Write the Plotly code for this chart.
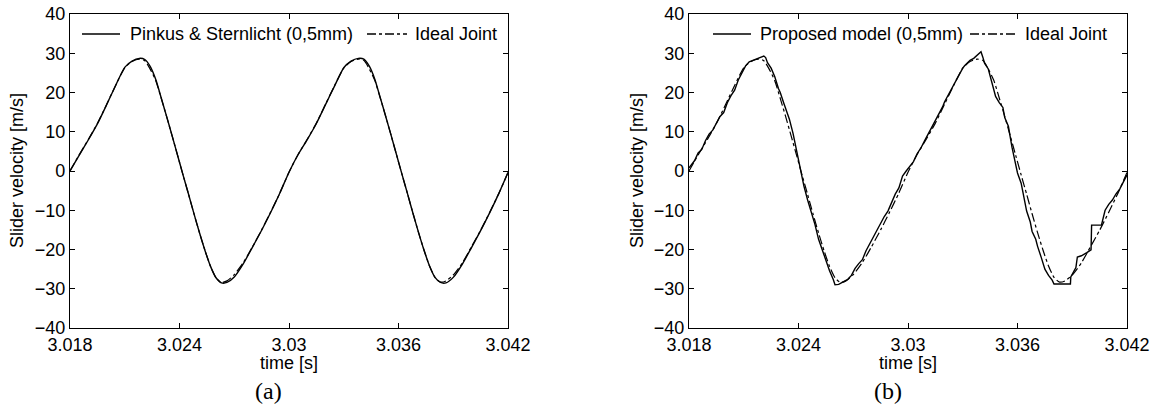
import plotly.graph_objects as go

# ---------------- data ----------------
t_a = [3.0180, 3.0185, 3.0190, 3.0195, 3.0200, 3.0205, 3.0210, 3.0214, 3.0218, 3.0221,
       3.0224, 3.0227, 3.0230, 3.0233, 3.0236, 3.0239, 3.0242, 3.0245, 3.0248, 3.0251,
       3.0254, 3.0257, 3.0260, 3.0263, 3.0266, 3.0270, 3.0275, 3.0280, 3.0285, 3.0290,
       3.0295, 3.0300,
       3.0305, 3.0310, 3.0315, 3.0320, 3.0325, 3.0330, 3.0334, 3.0338, 3.0341, 3.0344,
       3.0347, 3.0350, 3.0353, 3.0356, 3.0359, 3.0362, 3.0365, 3.0368, 3.0371, 3.0374,
       3.0377, 3.0380, 3.0383, 3.0386, 3.0390, 3.0395, 3.0400, 3.0405, 3.0410, 3.0415,
       3.0420]

pinkus_v = [0.0, 4.0, 7.9, 12.0, 16.8, 21.8, 26.4, 28.0, 28.7, 28.4,
            26.6, 23.3, 18.6, 13.8, 8.9, 3.9, -1.1, -6.0, -11.0, -15.8,
            -20.3, -24.3, -27.2, -28.5, -28.4, -27.0, -23.6, -19.4, -15.1, -10.5,
            -5.6, -0.3,
            4.2, 8.0, 12.1, 16.9, 21.7, 26.3, 28.0, 28.7, 28.5, 26.7,
            23.4, 18.7, 13.9, 9.0, 4.0, -1.0, -5.9, -10.9, -15.7, -20.2,
            -24.2, -27.1, -28.4, -28.5, -27.1, -23.7, -19.5, -15.2, -10.6, -5.7,
            -0.4]

ideal_v = [0.0, 4.1, 8.0, 12.1, 16.9, 21.8, 26.3, 27.9, 28.5, 28.1,
           25.9, 23.0, 18.5, 13.8, 8.9, 3.9, -1.1, -6.0, -11.0, -15.8,
           -20.3, -24.3, -27.2, -28.4, -28.0, -26.4, -23.3, -19.3, -15.0, -10.4,
           -5.6, -0.3,
           4.2, 8.1, 12.2, 17.0, 21.8, 26.2, 27.9, 28.5, 28.2, 26.0,
           23.1, 18.6, 13.9, 9.0, 4.0, -1.0, -5.9, -10.9, -15.7, -20.2,
           -24.2, -27.1, -28.3, -28.0, -26.5, -23.4, -19.3, -15.1, -10.5, -5.7,
           -0.4]

t_b = [3.0180, 3.0183, 3.0185, 3.0187, 3.0189, 3.0191, 3.0193, 3.0195, 3.0197, 3.0199,
       3.0201, 3.0203, 3.0205, 3.0207, 3.0209, 3.0211, 3.0213, 3.0216, 3.0219, 3.0221,
       3.0222, 3.0223, 3.0225, 3.0227, 3.0229, 3.0230, 3.0232, 3.0234, 3.0235, 3.0237,
       3.0239, 3.0240, 3.0242, 3.0243, 3.0245, 3.0247, 3.0249, 3.0251, 3.0253, 3.0255,
       3.0257, 3.0259, 3.0260, 3.0262, 3.0264, 3.0267, 3.0269, 3.0271, 3.0273, 3.0275,
       3.0277, 3.0279, 3.0281, 3.0283, 3.0285, 3.0287, 3.0289, 3.0291, 3.0293, 3.0295,
       3.0297, 3.0299, 3.0301,
       3.0303, 3.0305, 3.0307, 3.0309, 3.0311, 3.0313, 3.0315, 3.0317, 3.0319, 3.0320,
       3.0322, 3.0324, 3.0326, 3.0328, 3.0330, 3.0331, 3.0334, 3.0336, 3.0338, 3.0340,
       3.0341, 3.0342, 3.0344, 3.0345, 3.0347, 3.0348, 3.0350, 3.0352, 3.0353, 3.0355,
       3.0357, 3.0359, 3.0360, 3.0362, 3.0364, 3.0365, 3.0367, 3.0368, 3.0370, 3.0371,
       3.0373, 3.0375, 3.0377, 3.0379, 3.0380, 3.03890, 3.03892, 3.0392, 3.03928, 3.0395,
       3.0398, 3.04003, 3.04006, 3.0406, 3.0408, 3.0410, 3.0412, 3.0414, 3.0416, 3.0418,
       3.0420]

proposed_v = [0.8, 2.6, 4.6, 5.5, 7.7, 9.4, 10.4, 12.3, 13.9, 14.9,
              17.4, 19.2, 20.6, 23.2, 25.2, 26.8, 27.8, 28.4, 28.9, 29.3,
              28.9, 27.6, 26.2, 24.0, 21.0, 20.0, 17.2, 14.4, 13.2, 9.6,
              5.0, 3.0, -1.6, -3.9, -7.4, -10.4, -13.6, -17.4, -20.2, -22.9,
              -25.4, -27.6, -29.0, -28.9, -28.4, -27.6, -26.6, -24.8, -23.6, -22.6,
              -20.3, -18.6, -16.6, -15.2, -13.2, -11.6, -10.2, -8.0, -5.9, -4.3,
              -1.3, 0.0, 1.2,
              2.4, 4.4, 5.8, 7.6, 9.4, 11.2, 12.6, 14.6, 16.4, 17.6,
              19.4, 21.0, 22.9, 24.6, 26.2, 26.8, 28.2, 28.7, 29.6, 30.4,
              29.0, 27.4, 26.0, 24.2, 21.2, 19.0, 17.4, 16.2, 13.6, 11.4,
              6.0, 1.5, -0.5, -3.1, -7.4, -10.2, -13.0, -15.4, -17.4, -19.2,
              -22.0, -25.0, -26.6, -27.8, -28.8, -28.8, -27.0, -24.6, -21.9, -21.6,
              -20.8, -20.1, -13.8, -13.8, -10.0, -8.5, -7.4, -5.8, -4.6, -2.6,
              -1.0]

x_tickvals = [3.018, 3.024, 3.030, 3.036, 3.042]
x_ticktext = ["3.018", "3.024", "3.03", "3.036", "3.042"]
y_tickvals = [-40, -30, -20, -10, 0, 10, 20, 30, 40]

# ---------------- figure ----------------
FONT = "Liberation Sans, Arial, sans-serif"
SERIF = "Liberation Serif, Times New Roman, serif"

# target positions in page pixels
AX_L1, AX_R1, AX_L2, AX_R2 = 70, 508, 689, 1127
AX_T, AX_B = 14, 328

W, H = 1157, 407
L, T = AX_L1, AX_T
pw = AX_R2 - AX_L1
ph = AX_B - AX_T
R = W - L - pw
B = H - T - ph


def px2x(p):
    return (p - AX_L1) / pw


def py2y(p):
    return (AX_B - p) / ph


fig = go.Figure()
fig.add_trace(go.Scatter(x=t_a, y=pinkus_v, mode="lines", name="Pinkus & Sternlicht (0,5mm)",
                         line=dict(color="black", width=1.4, shape="spline", smoothing=0.6),
                         xaxis="x", yaxis="y", showlegend=False))
fig.add_trace(go.Scatter(x=t_a, y=ideal_v, mode="lines", name="Ideal Joint",
                         line=dict(color="black", width=1.2, dash="dashdot", shape="spline", smoothing=0.6),
                         xaxis="x", yaxis="y", showlegend=False))
fig.add_trace(go.Scatter(x=t_b, y=proposed_v, mode="lines", name="Proposed model (0,5mm)",
                         line=dict(color="black", width=1.4),
                         xaxis="x2", yaxis="y2", showlegend=False))
fig.add_trace(go.Scatter(x=t_a, y=ideal_v, mode="lines", name="Ideal Joint",
                         line=dict(color="black", width=1.2, dash="dashdot", shape="spline", smoothing=0.6),
                         xaxis="x2", yaxis="y2", showlegend=False))

common = dict(showline=True, linecolor="black", linewidth=1.2, mirror="ticks",
              ticks="inside", ticklen=5, tickcolor="black", tickwidth=1,
              showgrid=False, zeroline=False, automargin=False,
              ticklabeloverflow="allow",
              tickfont=dict(family=FONT, size=18, color="black"))
xax = dict(range=[3.018, 3.042], tickvals=x_tickvals, ticktext=x_ticktext, **common)
yax = dict(range=[-40, 40], tickvals=y_tickvals, **common)

# hand-placed legends (inside top of each panel)
LEG_Y = py2y(34)
legend_items = [
    # (line start px, line end px, text px, dash, label)
    (82, 120, 128, "solid", "Pinkus & Sternlicht (0,5mm)"),
    (367, 407, 413, "dashdot", "Ideal Joint"),
    (713, 751, 758, "solid", "Proposed model (0,5mm)"),
    (970, 1017, 1023, "dashdot", "Ideal Joint"),
]
shapes = []
annotations = []
for x0, x1, xt, dash, label in legend_items:
    shapes.append(dict(type="line", xref="paper", yref="paper", x0=px2x(x0), x1=px2x(x1),
                       y0=LEG_Y, y1=LEG_Y, line=dict(color="black", width=1.3, dash=dash)))
    annotations.append(dict(text=label, xref="paper", yref="paper", x=px2x(xt), y=LEG_Y,
                            showarrow=False, xanchor="left", yanchor="middle",
                            font=dict(family=FONT, size=18, color="black")))

for cx in (289, 908):
    annotations.append(dict(text="time [s]", xref="paper", yref="paper", x=px2x(cx), y=py2y(363),
                            showarrow=False, xanchor="center", yanchor="middle",
                            font=dict(family=FONT, size=18, color="black")))
for cx in (17, 637):
    annotations.append(dict(text="Slider velocity [m/s]", xref="paper", yref="paper", x=px2x(cx),
                            y=py2y(171), showarrow=False, xanchor="center", yanchor="middle",
                            textangle=-90, font=dict(family=FONT, size=18, color="black")))
for cx, lab in ((268, "(a)"), (888, "(b)")):
    annotations.append(dict(text=lab, xref="paper", yref="paper", x=px2x(cx), y=py2y(391),
                            showarrow=False, xanchor="center", yanchor="middle",
                            font=dict(family=SERIF, size=24, color="black")))

fig.update_layout(
    width=W, height=H,
    margin=dict(l=L, r=R, t=T, b=B, pad=0),
    paper_bgcolor="white", plot_bgcolor="white",
    showlegend=False,
    hovermode=False,
    xaxis=dict(domain=[0, px2x(AX_R1)], anchor="y", **xax),
    yaxis=dict(domain=[0, 1], anchor="x", **yax),
    xaxis2=dict(domain=[px2x(AX_L2), 1], anchor="y2", **xax),
    yaxis2=dict(domain=[0, 1], anchor="x2", **yax),
    shapes=shapes,
    annotations=annotations,
)

fig.write_html("out.html", config={"displayModeBar": False},
               post_script="document.body.style.margin='0';")
